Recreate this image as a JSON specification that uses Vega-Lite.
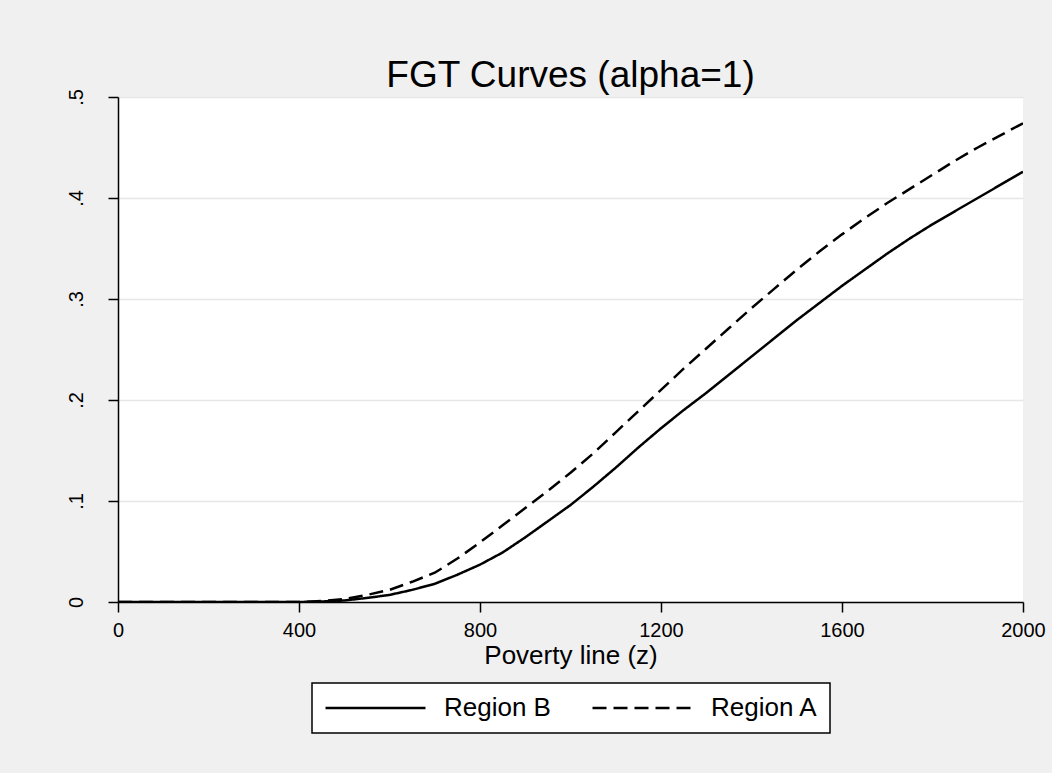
{
  "$schema": "https://vega.github.io/schema/vega-lite/v6.json",
  "autosize": "none",
  "width": 905,
  "height": 505,
  "padding": {"left": 118, "top": 97, "right": 29, "bottom": 171},
  "background": "#f0f0f0",
  "title": {"text": "FGT Curves (alpha=1)", "fontSize": 37, "fontWeight": "normal", "color": "#000000", "anchor": "middle", "offset": 12, "dy": 47, "baseline": "alphabetic", "font": "Liberation Sans"},
  "config": {
    "font": "Liberation Sans",
    "view": {"fill": "#ffffff", "stroke": null}
  },
  "data": {"values": [
    {"z": 0, "v": 0, "region": "Region B"},
    {"z": 100, "v": 0, "region": "Region B"},
    {"z": 200, "v": 0, "region": "Region B"},
    {"z": 300, "v": 0, "region": "Region B"},
    {"z": 400, "v": 0, "region": "Region B"},
    {"z": 450, "v": 0.0005, "region": "Region B"},
    {"z": 500, "v": 0.0015, "region": "Region B"},
    {"z": 550, "v": 0.004, "region": "Region B"},
    {"z": 600, "v": 0.007, "region": "Region B"},
    {"z": 650, "v": 0.012, "region": "Region B"},
    {"z": 700, "v": 0.018, "region": "Region B"},
    {"z": 750, "v": 0.027, "region": "Region B"},
    {"z": 800, "v": 0.037, "region": "Region B"},
    {"z": 850, "v": 0.049, "region": "Region B"},
    {"z": 900, "v": 0.064, "region": "Region B"},
    {"z": 950, "v": 0.080, "region": "Region B"},
    {"z": 1000, "v": 0.096, "region": "Region B"},
    {"z": 1050, "v": 0.114, "region": "Region B"},
    {"z": 1100, "v": 0.133, "region": "Region B"},
    {"z": 1150, "v": 0.153, "region": "Region B"},
    {"z": 1200, "v": 0.172, "region": "Region B"},
    {"z": 1250, "v": 0.190, "region": "Region B"},
    {"z": 1300, "v": 0.207, "region": "Region B"},
    {"z": 1350, "v": 0.225, "region": "Region B"},
    {"z": 1400, "v": 0.243, "region": "Region B"},
    {"z": 1450, "v": 0.261, "region": "Region B"},
    {"z": 1500, "v": 0.279, "region": "Region B"},
    {"z": 1550, "v": 0.296, "region": "Region B"},
    {"z": 1600, "v": 0.313, "region": "Region B"},
    {"z": 1650, "v": 0.329, "region": "Region B"},
    {"z": 1700, "v": 0.345, "region": "Region B"},
    {"z": 1750, "v": 0.360, "region": "Region B"},
    {"z": 1800, "v": 0.374, "region": "Region B"},
    {"z": 1850, "v": 0.387, "region": "Region B"},
    {"z": 1900, "v": 0.400, "region": "Region B"},
    {"z": 1950, "v": 0.413, "region": "Region B"},
    {"z": 2000, "v": 0.426, "region": "Region B"},
    {"z": 0, "v": 0, "region": "Region A"},
    {"z": 100, "v": 0, "region": "Region A"},
    {"z": 200, "v": 0, "region": "Region A"},
    {"z": 300, "v": 0, "region": "Region A"},
    {"z": 400, "v": 0, "region": "Region A"},
    {"z": 450, "v": 0.001, "region": "Region A"},
    {"z": 500, "v": 0.003, "region": "Region A"},
    {"z": 550, "v": 0.007, "region": "Region A"},
    {"z": 600, "v": 0.012, "region": "Region A"},
    {"z": 650, "v": 0.020, "region": "Region A"},
    {"z": 700, "v": 0.029, "region": "Region A"},
    {"z": 750, "v": 0.043, "region": "Region A"},
    {"z": 800, "v": 0.059, "region": "Region A"},
    {"z": 850, "v": 0.076, "region": "Region A"},
    {"z": 900, "v": 0.093, "region": "Region A"},
    {"z": 950, "v": 0.110, "region": "Region A"},
    {"z": 1000, "v": 0.128, "region": "Region A"},
    {"z": 1050, "v": 0.147, "region": "Region A"},
    {"z": 1100, "v": 0.168, "region": "Region A"},
    {"z": 1150, "v": 0.189, "region": "Region A"},
    {"z": 1200, "v": 0.210, "region": "Region A"},
    {"z": 1250, "v": 0.231, "region": "Region A"},
    {"z": 1300, "v": 0.251, "region": "Region A"},
    {"z": 1350, "v": 0.271, "region": "Region A"},
    {"z": 1400, "v": 0.291, "region": "Region A"},
    {"z": 1450, "v": 0.310, "region": "Region A"},
    {"z": 1500, "v": 0.329, "region": "Region A"},
    {"z": 1550, "v": 0.347, "region": "Region A"},
    {"z": 1600, "v": 0.364, "region": "Region A"},
    {"z": 1650, "v": 0.380, "region": "Region A"},
    {"z": 1700, "v": 0.395, "region": "Region A"},
    {"z": 1750, "v": 0.409, "region": "Region A"},
    {"z": 1800, "v": 0.423, "region": "Region A"},
    {"z": 1850, "v": 0.437, "region": "Region A"},
    {"z": 1900, "v": 0.450, "region": "Region A"},
    {"z": 1950, "v": 0.462, "region": "Region A"},
    {"z": 2000, "v": 0.474, "region": "Region A"}
  ]},
  "mark": {"type": "line", "color": "#000000", "strokeWidth": 2.5, "clip": true},
  "encoding": {
    "x": {
      "field": "z", "type": "quantitative",
      "scale": {"domain": [0, 2000], "nice": false, "zero": false},
      "axis": {
        "title": "Poverty line (z)", "titleFontSize": 26, "titleFontWeight": "normal", "titleColor": "#000000",
        "titleBaseline": "alphabetic", "titleY": 61,
        "values": [0, 400, 800, 1200, 1600, 2000], "format": "d",
        "labelFontSize": 20, "labelColor": "#000000", "labelPadding": 8, "labelFlush": false, "labelOverlap": false,
        "tickSize": 10, "tickColor": "#000000", "tickWidth": 1.5,
        "domainColor": "#000000", "domainWidth": 1.5, "grid": false
      }
    },
    "y": {
      "field": "v", "type": "quantitative",
      "scale": {"domain": [0, 0.5], "nice": false},
      "axis": {
        "title": null,
        "values": [0, 0.1, 0.2, 0.3, 0.4, 0.5],
        "labelExpr": "datum.value == 0 ? '0' : replace(format(datum.value, '.1f'), '0.', '.')",
        "labelAngle": -90, "labelAlign": "center", "labelBaseline": "alphabetic",
        "labelFontSize": 20, "labelColor": "#000000", "labelPadding": 26, "labelFlush": false, "labelOverlap": false,
        "tickSize": 10, "tickColor": "#000000", "tickWidth": 1.5,
        "domainColor": "#000000", "domainWidth": 1.5,
        "grid": true, "gridColor": "#e6e6e6", "gridWidth": 1.5
      }
    },
    "strokeDash": {
      "field": "region", "type": "nominal",
      "scale": {"domain": ["Region B", "Region A"], "range": [[1, 0], [14, 7]]},
      "legend": {
        "title": null, "orient": "none", "legendX": 194, "legendY": 586, "direction": "horizontal",
        "fillColor": "#ffffff", "strokeColor": "#000000", "padding": 12, "clipHeight": 26,
        "symbolType": "stroke", "symbolSize": 10000, "symbolStrokeWidth": 2.5, "symbolStrokeColor": "#000000",
        "labelFontSize": 26, "labelColor": "#000000", "labelOffset": 17, "columnPadding": 40, "labelLimit": 300,
        "encode": {"legend": {"update": {"strokeWidth": {"value": 1.5}}}}
      }
    }
  }
}
